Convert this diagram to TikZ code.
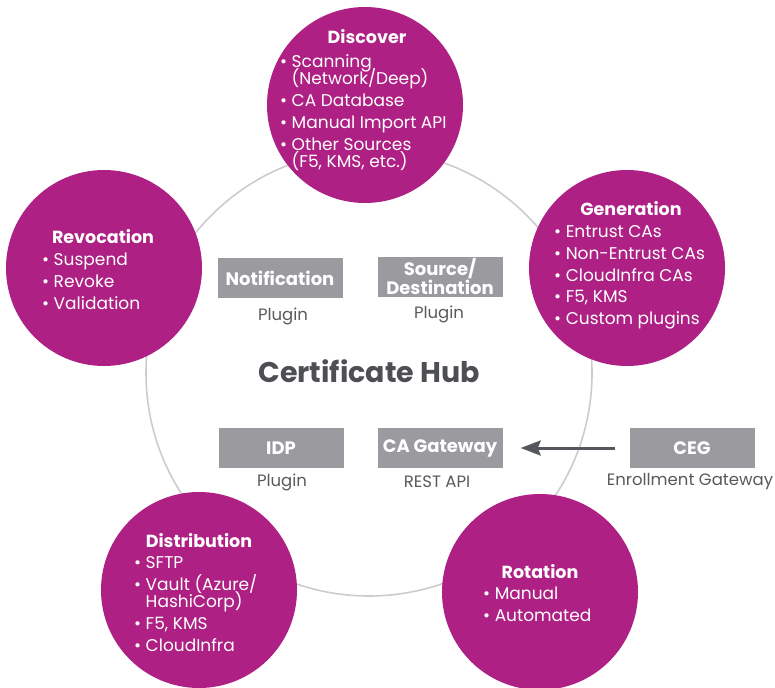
\documentclass[tikz,border=0pt]{standalone}
\usepackage{fontspec}
\setmainfont{Poppins}
\usetikzlibrary{arrows.meta}

\definecolor{hubpurple}{RGB}{174,32,131}
\definecolor{boxgray}{RGB}{155,154,159}
\definecolor{ringgray}{RGB}{204,204,204}
\definecolor{hubtext}{RGB}{77,79,84}
\definecolor{notegray}{RGB}{88,89,91}
\definecolor{arrowgray}{RGB}{84,87,92}

\newcommand{\itm}{\textbullet\ }
\newcommand{\cont}{\phantom{\textbullet\ }}
\newcommand{\tightlines}{\lineskiplimit-20pt\relax}

\tikzset{
  stage/.style={circle,fill=hubpurple,minimum size=196pt,inner sep=0pt},
  stagetitle/.style={anchor=base,text=white,inner sep=0pt,font=\bfseries\fontsize{17.5}{17}\selectfont},
  stagelist/.style={anchor=north west,align=left,text=white,inner sep=0pt,font={\fontsize{17}{17}\selectfont\tightlines}},
  plugbox/.style={fill=boxgray,minimum width=125pt,minimum height=40pt,inner sep=0pt,align=center,text=white,font={\bfseries\fontsize{18}{19}\selectfont\tightlines}},
  plugnote/.style={anchor=base,text=notegray,inner sep=0pt,font=\fontsize{16.5}{17}\selectfont},
}

\begin{document}
\begin{tikzpicture}[x=1pt,y=-1pt]
\useasboundingbox (0,0) rectangle (775,687);
% hub ring
\node (ring) [circle,draw=ringgray,line width=1.6pt,minimum size=446pt,inner sep=0pt] at (369,373) {};
\node (hub) [anchor=base,text=hubtext,inner sep=0pt,font=\bfseries\fontsize{28.5}{30}\selectfont] at (369,382) {Certificate Hub};

% stages
\node (disc) [stage] at (365,105) {};
\node (discT) [stagetitle] at (367,44) {Discover};
\node (discL) [stagelist] at (280,54.6) {\strut\itm Scanning\\\cont(Network/Deep)\\[5pt]\itm CA Database\\[5pt]\itm Manual Import API\\[5pt]\itm Other Sources\\\cont(F5, KMS, etc.)};

\node (gen) [stage] at (627,268) {};
\node (genT) [stagetitle] at (631,215) {Generation};
\node (genL) [stagelist] at (554,225.6) {\strut\itm Entrust CAs\\[4.7pt]\itm Non-Entrust CAs\\[4.7pt]\itm CloudInfra CAs\\[4.7pt]\itm F5, KMS\\[4.7pt]\itm Custom plugins};

\node (revo) [stage] at (104,268) {};
\node (revoT) [stagetitle] at (103,243) {Revocation};
\node (revoL) [stagelist] at (42,252.6) {\strut\itm Suspend\\[5pt]\itm Revoke\\[5pt]\itm Validation};

\node (dist) [stage] at (199,590) {};
\node (distT) [stagetitle] at (199,547) {Distribution};
\node (distL) [stagelist] at (134,556.6) {\strut\itm SFTP\\[5pt]\itm Vault (Azure/\\\cont HashiCorp)\\[5pt]\itm F5, KMS\\[5pt]\itm CloudInfra};

\node (rota) [stage] at (540,592) {};
\node (rotaT) [stagetitle] at (540,578) {Rotation};
\node (rotaL) [stagelist] at (483,586.6) {\strut\itm Manual\\[5pt]\itm Automated};

% plugins
\node (notif) [plugbox] at (280,278) {Notification};
\node (notifN) [plugnote] at (283,320) {Plugin};
\node (srcdst) [plugbox] at (440,277) {Source/\\Destination};
\node (srcdstN) [plugnote] at (439,318) {Plugin};
\node (idp) [plugbox] at (281,448) {IDP};
\node (idpN) [plugnote] at (282,486) {Plugin};
\node (cagw) [plugbox] at (440,448) {CA Gateway};
\node (cagwN) [plugnote] at (437,487) {REST API};
\node (ceg) [plugbox] at (692,448) {CEG};
\node (cegN) [plugnote] at (690,485) {Enrollment Gateway};

\draw [line width=3pt,arrowgray,-{Stealth[length=20pt,width=15pt,inset=3pt]},shorten <=14pt,shorten >=18pt] (ceg) -- (cagw);
\end{tikzpicture}
\end{document}
